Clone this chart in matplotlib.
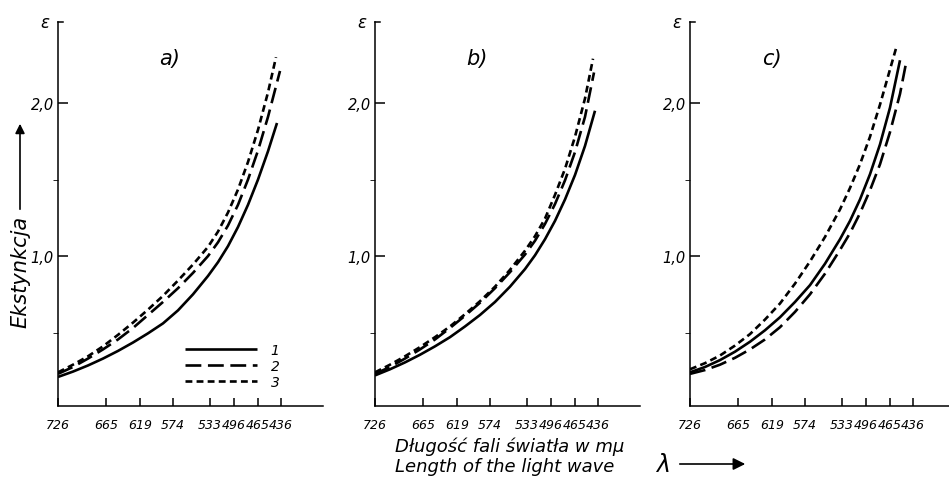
import matplotlib
matplotlib.use("Agg")
import matplotlib.pyplot as plt
from matplotlib import font_manager
from matplotlib.patches import FancyArrowPatch

# wavelength scale (mμ) and where each mark sits on the instrument scale
wavelengths = ["726", "665", "619", "574", "533", "496", "465", "436"]
tick_pos = [0, 4.8, 8.2, 11.5, 15.2, 17.6, 20.0, 22.3]

# panel a)
a1_x = [0, 1.5, 3, 4.5, 6, 7.5, 9, 10.5, 12, 13.5, 15, 16, 17, 18, 19, 20, 21, 21.9]
a1_y = [0.21, 0.245, 0.285, 0.33, 0.38, 0.435, 0.495, 0.56, 0.645, 0.75,
        0.87, 0.96, 1.065, 1.19, 1.335, 1.50, 1.685, 1.87]
a2_x = [0, 1.5, 3, 4.5, 6, 7.5, 9, 10.5, 12, 13.5, 15, 16, 17, 18, 19, 20, 21, 22.2]
a2_y = [0.23, 0.275, 0.33, 0.39, 0.455, 0.53, 0.615, 0.70, 0.79, 0.89,
        1.00, 1.09, 1.20, 1.335, 1.50, 1.69, 1.91, 2.21]
a3_x = [0, 1.5, 3, 4.5, 6, 7.5, 9, 10.5, 12, 13.5, 15, 16, 17, 18, 19, 20, 21, 21.8]
a3_y = [0.24, 0.29, 0.345, 0.41, 0.485, 0.565, 0.65, 0.74, 0.84, 0.945,
        1.06, 1.16, 1.285, 1.435, 1.615, 1.825, 2.07, 2.30]

# panel b)
b1_x = [0, 1.5, 3, 4.5, 6, 7.5, 9, 10.5, 12, 13.5, 15, 16, 17, 18, 19, 20, 21, 22]
b1_y = [0.22, 0.26, 0.305, 0.355, 0.41, 0.47, 0.54, 0.615, 0.70, 0.80,
        0.915, 1.005, 1.11, 1.23, 1.37, 1.53, 1.72, 1.95]
b2_x = [0, 1.5, 3, 4.5, 6, 7.5, 9, 10.5, 12, 13.5, 15, 16, 17, 18, 19, 20, 21, 21.9]
b2_y = [0.23, 0.275, 0.33, 0.39, 0.455, 0.53, 0.61, 0.695, 0.79, 0.895,
        1.01, 1.10, 1.21, 1.34, 1.495, 1.68, 1.91, 2.20]
b3_x = [0, 1.5, 3, 4.5, 6, 7.5, 9, 10.5, 12, 13.5, 15, 16, 17, 18, 19, 20, 21, 21.8]
b3_y = [0.24, 0.29, 0.345, 0.405, 0.47, 0.54, 0.62, 0.705, 0.80, 0.91,
        1.035, 1.13, 1.245, 1.40, 1.57, 1.78, 2.03, 2.29]

# panel c)
c1_x = [0, 1.5, 3, 4.5, 6, 7.5, 9, 10.5, 12, 13.5, 15, 16, 17, 18, 19, 20, 21]
c1_y = [0.24, 0.275, 0.32, 0.375, 0.44, 0.515, 0.60, 0.70, 0.81, 0.95,
        1.11, 1.23, 1.37, 1.535, 1.73, 1.97, 2.28]
c2_x = [0, 1.5, 3, 4.5, 6, 7.5, 9, 10.5, 12, 13.5, 15, 16, 17, 18, 19, 20, 21, 21.6]
c2_y = [0.23, 0.255, 0.29, 0.335, 0.39, 0.455, 0.535, 0.635, 0.75, 0.885,
        1.04, 1.15, 1.28, 1.43, 1.60, 1.81, 2.06, 2.26]
c3_x = [0, 1.5, 3, 4.5, 6, 7.5, 9, 10.5, 12, 13.5, 15, 16, 17, 18, 19, 20, 20.7]
c3_y = [0.26, 0.30, 0.35, 0.415, 0.49, 0.585, 0.69, 0.82, 0.965, 1.125,
        1.305, 1.445, 1.60, 1.78, 1.99, 2.22, 2.38]

series_names = ["1", "2", "3"]
panel_names = ["a)", "b)", "c)"]

W, H = 949, 485
styles = {"1": "-", "2": (0, (6.0, 2.5)), "3": (0, (2.6, 1.6))}

# condensed italic lettering like the print, if the narrow face is there
installed = {f.name for f in font_manager.fontManager.ttflist}
if "Liberation Sans Narrow" in installed:
    FONT = "Liberation Sans Narrow"
    TS = 12
else:
    FONT = "DejaVu Sans"
    TS = 9
plt.rcParams["font.family"] = [FONT, "DejaVu Sans"]
plt.rcParams["font.style"] = "italic"
TS_PX = TS * 100 / 72.0


def draw_panel(ax, name, curves, legend=False):
    lines = []
    for key, (xs, ys) in zip(series_names, curves):
        ln, = ax.plot(xs, ys, color="k", lw=1.9, linestyle=styles[key],
                      solid_capstyle="butt", dash_capstyle="butt",
                      solid_joinstyle="round")
        lines.append(ln)
    ax.set_xlim(0, 26.5)
    ax.set_ylim(0.02, 2.53)
    for s in ["top", "right"]:
        ax.spines[s].set_visible(False)
    for s in ["left", "bottom"]:
        ax.spines[s].set_linewidth(1.1)
    ax.set_xticks(tick_pos)
    ax.set_xticklabels(wavelengths, fontsize=TS)
    ax.set_yticks([1.0, 2.0])
    ax.set_yticklabels(["1,0", "2,0"], fontsize=TS + 1.5)
    ax.set_yticks([0.5, 1.5], minor=True)
    ax.tick_params(direction="in", width=1.1)
    ax.tick_params(axis="y", which="major", length=7, pad=3)
    ax.tick_params(axis="y", which="minor", length=3.5)
    ax.tick_params(axis="x", length=6, pad=9)
    ax.axhline(ax.get_ylim()[1], xmin=0, xmax=0.018, color="k", lw=1.1,
               clip_on=False)
    ax.text(-0.05, 1.0, "ε", transform=ax.transAxes, ha="center",
            va="center", fontsize=12, family="DejaVu Sans")
    lx = {"a)": 0.42, "b)": 0.385, "c)": 0.31}[name]
    ax.text(lx, 0.905, name, transform=ax.transAxes, ha="center",
            va="center", fontsize=15, family="DejaVu Sans")
    if legend:
        ax.legend(lines, series_names, loc="lower left",
                  bbox_to_anchor=(0.48, 0.045), frameon=False,
                  handlelength=65 / TS_PX, handletextpad=12 / TS_PX,
                  labelspacing=0.15, borderpad=0, borderaxespad=0,
                  prop={"size": TS + 1, "style": "italic"})


fig = plt.figure(figsize=(W / 100, H / 100), dpi=100)
lefts = [58, 375, 690]
data = [
    [(a1_x, a1_y), (a2_x, a2_y), (a3_x, a3_y)],
    [(b1_x, b1_y), (b2_x, b2_y), (b3_x, b3_y)],
    [(c1_x, c1_y), (c2_x, c2_y), (c3_x, c3_y)],
]
for i, (left, curves) in enumerate(zip(lefts, data)):
    ax = fig.add_axes([left / W, 78 / H, 265 / W, 384 / H])
    draw_panel(ax, panel_names[i], curves, legend=(i == 0))

# y axis title with arrow
fig.text(20 / W, 1 - 272 / H, "Ekstynkcja", rotation=90, ha="center",
         va="center", fontsize=15, family="DejaVu Sans")
fig.add_artist(FancyArrowPatch(
    (20 / W, 1 - 213 / H), (20 / W, 1 - 122 / H), transform=fig.transFigure,
    arrowstyle="-|>", mutation_scale=14, color="k", lw=1.2))

# x axis title
fig.text(395 / W, 1 - 447 / H, "Długość fali światła w mμ", ha="left",
         va="center", fontsize=13, family="DejaVu Sans")
fig.text(395 / W, 1 - 467 / H, "Length of the light wave", ha="left",
         va="center", fontsize=13, family="DejaVu Sans")
fig.text(663 / W, 1 - 465 / H, "λ", ha="center", va="center", fontsize=17,
         family="DejaVu Sans")
fig.add_artist(FancyArrowPatch(
    (677 / W, 1 - 465 / H), (748 / W, 1 - 465 / H), transform=fig.transFigure,
    arrowstyle="-|>", mutation_scale=18, color="k", lw=1.2))

fig.savefig("out.png", dpi=100)
